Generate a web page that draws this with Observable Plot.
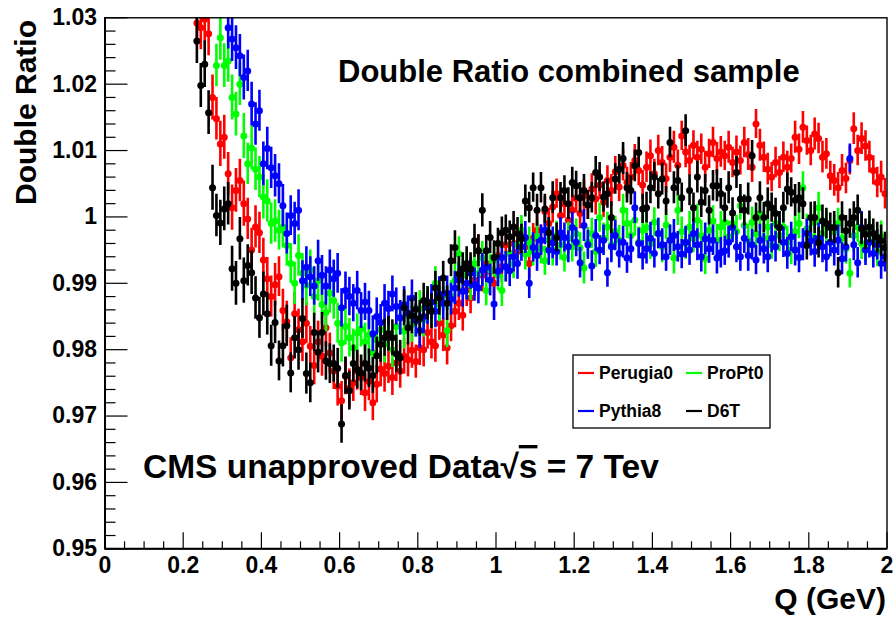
<!DOCTYPE html>
<html><head><meta charset="utf-8">
<script src="https://cdn.jsdelivr.net/npm/d3@7"></script>
<script src="https://cdn.jsdelivr.net/npm/@observablehq/plot@0.6"></script>
<style>
html,body{margin:0;padding:0;background:#fff;}
#chart{width:896px;height:621px;}
</style></head><body><div id="chart"></div>
<script>
// Q bin centres (GeV)
const q = [
0.235,0.245,0.255,0.265,0.275,0.285,0.295,0.305,0.315,0.325,
0.335,0.345,0.355,0.365,0.375,0.385,0.395,0.405,0.415,0.425,
0.435,0.445,0.455,0.465,0.475,0.485,0.495,0.505,0.515,0.525,
0.535,0.545,0.555,0.565,0.575,0.585,0.595,0.605,0.615,0.625,
0.635,0.645,0.655,0.665,0.675,0.685,0.695,0.705,0.715,0.725,
0.735,0.745,0.755,0.765,0.775,0.785,0.795,0.805,0.815,0.825,
0.835,0.845,0.855,0.865,0.875,0.885,0.895,0.905,0.915,0.925,
0.935,0.945,0.955,0.965,0.975,0.985,0.995,1.005,1.015,1.025,
1.035,1.045,1.055,1.065,1.075,1.085,1.095,1.105,1.115,1.125,
1.135,1.145,1.155,1.165,1.175,1.185,1.195,1.205,1.215,1.225,
1.235,1.245,1.255,1.265,1.275,1.285,1.295,1.305,1.315,1.325,
1.335,1.345,1.355,1.365,1.375,1.385,1.395,1.405,1.415,1.425,
1.435,1.445,1.455,1.465,1.475,1.485,1.495,1.505,1.515,1.525,
1.535,1.545,1.555,1.565,1.575,1.585,1.595,1.605,1.615,1.625,
1.635,1.645,1.655,1.665,1.675,1.685,1.695,1.705,1.715,1.725,
1.735,1.745,1.755,1.765,1.775,1.785,1.795,1.805,1.815,1.825,
1.835,1.845,1.855,1.865,1.875,1.885,1.895,1.905,1.915,1.925,
1.935,1.945,1.955,1.965,1.975,1.985,1.995];

const perugia0 = [
1.0292,1.0285,1.0298,1.0276,1.0180,1.0148,1.0110,1.0120,1.0065,1.0014,
1.0040,1.0055,1.0020,0.9997,0.9950,0.9985,0.9976,0.9935,0.9907,0.9880,
0.9898,0.9910,0.9859,0.9842,0.9788,0.9854,0.9830,0.9812,0.9840,0.9805,
0.9776,0.9812,0.9790,0.9833,0.9795,0.9768,0.9745,0.9723,0.9760,0.9742,
0.9750,0.9768,0.9758,0.9735,0.9752,0.9720,0.9748,0.9771,0.9764,0.9775,
0.9758,0.9780,0.9768,0.9790,0.9785,0.9799,0.9782,0.9803,0.9800,0.9826,
0.9812,0.9806,0.9840,0.9822,0.9803,0.9836,0.9858,0.9870,0.9852,0.9890,
0.9878,0.9905,0.9949,0.9912,0.9930,0.9918,0.9900,0.9942,0.9925,0.9958,
0.9945,0.9960,0.9948,0.9972,0.9955,0.9930,0.9968,0.9980,0.9965,1.0008,
0.9990,1.0015,1.0035,1.0002,1.0020,0.9995,1.0010,1.0028,1.0005,1.0032,
1.0018,1.0042,1.0027,1.0048,1.0022,1.0055,1.0040,1.0068,1.0045,1.0078,
1.0052,1.0060,1.0085,1.0070,1.0048,1.0075,1.0092,1.0065,1.0100,1.0082,
1.0058,1.0090,1.0105,1.0078,1.0122,1.0098,1.0085,1.0108,1.0090,1.0102,
1.0075,1.0095,1.0112,1.0088,1.0098,1.0092,1.0105,1.0082,1.0098,1.0085,
1.0112,1.0094,1.0075,1.0140,1.0108,1.0090,1.0072,1.0060,1.0082,1.0067,
1.0090,1.0075,1.0088,1.0120,1.0102,1.0135,1.0115,1.0100,1.0125,1.0118,
1.0090,1.0095,1.0062,1.0055,1.0044,1.0070,1.0058,1.0085,1.0133,1.0100,
1.0118,1.0107,1.0090,1.0070,1.0052,1.0060,1.0035];

const propt0 = [
null,null,null,null,null,1.0228,1.0270,1.0228,1.0235,1.0180,
1.0155,1.0200,1.0122,1.0080,1.0104,1.0072,1.0060,1.0030,1.0024,0.9990,
0.9994,0.9980,0.9985,0.9957,0.9930,0.9900,0.9942,0.9915,0.9897,0.9920,
0.9880,0.9904,0.9868,0.9856,0.9885,0.9874,0.9840,0.9810,0.9835,0.9818,
0.9803,0.9825,0.9831,0.9812,0.9822,0.9795,0.9815,0.9830,0.9808,0.9825,
0.9800,0.9835,0.9848,0.9828,0.9852,0.9838,0.9844,0.9862,0.9845,0.9870,
0.9860,0.9900,0.9868,0.9882,0.9829,0.9880,0.9905,0.9944,0.9912,0.9925,
0.9898,0.9930,0.9915,0.9938,0.9889,0.9920,0.9935,0.9912,0.9889,0.9925,
0.9945,0.9930,0.9958,0.9980,0.9944,0.9962,0.9948,0.9970,0.9952,0.9934,
0.9965,0.9950,0.9972,0.9958,0.9939,0.9968,0.9955,0.9975,0.9953,0.9923,
0.9962,0.9975,0.9948,0.9999,0.9968,0.9985,0.9958,0.9978,0.9965,1.0010,
0.9990,0.9972,0.9995,0.9962,0.9980,0.9984,0.9960,0.9992,0.9975,0.9955,
0.9988,0.9965,0.9938,1.0010,0.9978,0.9960,0.9985,0.9968,0.9995,0.9972,
0.9937,0.9980,0.9994,0.9965,0.9985,0.9992,0.9970,0.9990,0.9978,1.0017,
0.9987,0.9965,0.9992,0.9975,1.0005,0.9968,0.9985,0.9958,0.9990,0.9972,
0.9985,0.9962,0.9950,0.9978,0.9990,1.0044,0.9982,0.9970,0.9992,1.0014,
0.9975,0.9985,0.9962,0.9978,0.9990,0.9968,0.9952,0.9915,0.9972,0.9985,
0.9960,0.9954,0.9978,0.9965,0.9948,0.9970,0.9954];

const pythia8 = [
null,null,null,null,null,null,null,null,1.0285,1.0268,
1.0255,1.0243,1.0210,1.0220,1.0170,1.0140,1.0160,1.0080,1.0103,1.0074,
1.0062,1.0050,1.0017,0.9975,1.0002,0.9990,1.0010,0.9904,0.9924,0.9910,
0.9896,0.9934,0.9912,0.9896,0.9920,0.9907,0.9915,0.9863,0.9889,0.9880,
0.9870,0.9889,0.9859,0.9872,0.9859,0.9824,0.9850,0.9841,0.9870,0.9862,
0.9884,0.9865,0.9848,0.9868,0.9855,0.9878,0.9844,0.9829,0.9850,0.9863,
0.9872,0.9858,0.9884,0.9870,0.9885,0.9876,0.9893,0.9905,0.9888,0.9900,
0.9915,0.9898,0.9893,0.9920,0.9924,0.9905,0.9869,0.9918,0.9939,0.9925,
0.9919,0.9940,0.9930,0.9955,0.9969,0.9900,0.9954,0.9942,0.9965,0.9980,
0.9950,0.9961,0.9948,0.9976,0.9969,0.9955,0.9984,0.9962,0.9931,0.9987,
0.9958,0.9926,0.9972,0.9950,0.9965,0.9916,0.9955,0.9972,0.9945,0.9962,
0.9938,0.9952,1.0014,0.9960,0.9942,0.9952,0.9968,0.9945,0.9975,0.9958,
0.9940,0.9965,0.9972,0.9955,0.9944,0.9962,0.9950,0.9975,0.9958,0.9940,
0.9967,0.9952,0.9965,0.9938,0.9946,0.9949,0.9962,0.9984,0.9955,0.9940,
0.9968,0.9942,0.9958,0.9935,0.9965,0.9952,0.9940,0.9968,0.9955,0.9984,
0.9962,0.9945,0.9970,0.9950,0.9939,0.9958,0.9975,0.9964,0.9948,0.9968,
0.9955,0.9940,0.9962,0.9950,0.9965,0.9937,0.9955,1.0088,0.9958,0.9931,
0.9984,0.9950,0.9962,0.9945,0.9958,0.9930,0.9940];

const d6t = [
1.0265,1.0198,1.0230,1.0157,1.0044,1.0002,0.9991,1.0012,1.0020,0.9922,
0.9900,0.9967,0.9904,0.9927,0.9916,0.9878,0.9848,0.9884,0.9854,0.9806,
0.9841,0.9783,0.9806,0.9836,0.9765,0.9818,0.9800,0.9847,0.9764,0.9750,
0.9826,0.9796,0.9826,0.9783,0.9779,0.9779,0.9772,0.9688,0.9761,0.9738,
0.9779,0.9770,0.9765,0.9779,0.9772,0.9761,0.9791,0.9808,0.9818,0.9824,
0.9818,0.9794,0.9788,0.9863,0.9833,0.9851,0.9861,0.9847,0.9874,0.9870,
0.9858,0.9893,0.9878,0.9908,0.9870,0.9934,0.9954,0.9914,0.9922,0.9930,
0.9922,0.9964,0.9949,1.0010,0.9949,0.9969,0.9939,0.9960,0.9976,0.9980,
0.9970,0.9985,0.9975,0.9967,1.0024,1.0014,1.0044,1.0010,1.0044,1.0012,
0.9976,1.0029,0.9969,1.0029,1.0040,1.0020,1.0052,1.0047,1.0029,1.0040,
1.0018,1.0029,1.0067,1.0060,1.0030,1.0035,0.9999,1.0057,1.0072,1.0088,
1.0044,1.0040,1.0077,1.0097,1.0012,1.0014,1.0044,1.0060,1.0035,1.0057,
1.0024,1.0112,1.0044,1.0055,1.0029,1.0130,1.0040,1.0014,1.0060,1.0022,
1.0040,1.0010,1.0047,1.0047,1.0035,1.0014,1.0044,1.0006,1.0067,1.0027,
1.0010,1.0027,1.0092,0.9999,1.0029,0.9999,1.0020,1.0014,1.0005,0.9984,
1.0014,1.0042,1.0037,1.0025,1.0029,1.0020,0.9957,0.9999,0.9999,0.9961,
0.9994,0.9990,0.9984,0.9984,0.9916,0.9999,0.9979,0.9990,0.9999,1.0010,
0.9982,0.9974,0.9985,0.9975,0.9969,0.9964,0.9954];

// statistical error per Q bin (shared by the four samples)
const errors = [
0.0034,0.0033,0.0035,0.0033,0.0034,0.0032,0.0034,0.0033,0.0032,0.0034,
0.0033,0.0032,0.0034,0.0031,0.0033,0.0032,0.0031,0.0033,0.0032,0.0031,
0.0032,0.0030,0.0032,0.0031,0.0030,0.0032,0.0031,0.0030,0.0031,0.0030,
0.0029,0.0031,0.0030,0.0029,0.0030,0.0028,0.0030,0.0029,0.0028,0.0029,
0.0028,0.0029,0.0027,0.0028,0.0029,0.0027,0.0028,0.0027,0.0028,0.0026,
0.0027,0.0028,0.0026,0.0027,0.0026,0.0027,0.0025,0.0027,0.0026,0.0025,
0.0026,0.0025,0.0026,0.0025,0.0026,0.0024,0.0025,0.0026,0.0024,0.0025,
0.0024,0.0025,0.0024,0.0025,0.0023,0.0024,0.0025,0.0023,0.0024,0.0023,
0.0024,0.0023,0.0024,0.0022,0.0024,0.0023,0.0022,0.0024,0.0023,0.0022,
0.0023,0.0024,0.0022,0.0023,0.0022,0.0024,0.0023,0.0022,0.0023,0.0024,
0.0022,0.0023,0.0024,0.0022,0.0023,0.0022,0.0024,0.0023,0.0022,0.0024,
0.0023,0.0022,0.0024,0.0023,0.0022,0.0023,0.0024,0.0022,0.0023,0.0024,
0.0022,0.0023,0.0024,0.0023,0.0022,0.0024,0.0023,0.0022,0.0024,0.0023,
0.0024,0.0022,0.0023,0.0024,0.0023,0.0022,0.0024,0.0023,0.0024,0.0022,
0.0023,0.0024,0.0023,0.0022,0.0024,0.0023,0.0024,0.0022,0.0023,0.0024,
0.0023,0.0024,0.0022,0.0024,0.0023,0.0024,0.0022,0.0023,0.0024,0.0023,
0.0024,0.0023,0.0022,0.0024,0.0023,0.0024,0.0023,0.0022,0.0024,0.0023,
0.0024,0.0023,0.0024,0.0022,0.0023,0.0024,0.0023];

const seriesNames = ["Perugia0", "ProPt0", "Pythia8", "D6T"];
const seriesColors = ["#ff0000", "#00ff00", "#0000ff", "#000000"];
const seriesValues = [perugia0, propt0, pythia8, d6t];

const xMajorTicks = [0,0.2,0.4,0.6,0.8,1,1.2,1.4,1.6,1.8,2];
const xTickLabels = ["0","0.2","0.4","0.6","0.8","1","1.2","1.4","1.6","1.8","2"];
const xMinorTicks = [0.05,0.1,0.15,0.25,0.3,0.35,0.45,0.5,0.55,0.65,0.7,0.75,0.85,0.9,0.95,
  1.05,1.1,1.15,1.25,1.3,1.35,1.45,1.5,1.55,1.65,1.7,1.75,1.85,1.9,1.95];
const yMajorTicks = [0.95,0.96,0.97,0.98,0.99,1,1.01,1.02,1.03];
const yTickLabels = ["0.95","0.96","0.97","0.98","0.99","1","1.01","1.02","1.03"];
const yMinorTicks = [0.952,0.954,0.956,0.958,0.962,0.964,0.966,0.968,0.972,0.974,0.976,0.978,
  0.982,0.984,0.986,0.988,0.992,0.994,0.996,0.998,1.002,1.004,1.006,1.008,1.012,1.014,1.016,1.018,
  1.022,1.024,1.026,1.028];

const titleText = "Double Ratio combined sample";
const yTitle = "Double Ratio";
const xTitle = "Q (GeV)";

const FONT = "'Liberation Sans', Arial, Helvetica, sans-serif";

const marks = [];
seriesValues.forEach((vals, k) => {
  const rows = vals.map((v, i) => ({q: q[i], v, err: errors[i]})).filter(d => d.v != null);
  marks.push(Plot.ruleX(rows, {x: "q", y1: d => d.v - d.err, y2: d => d.v + d.err,
    stroke: seriesColors[k], strokeWidth: 2.6, clip: true}));
  marks.push(Plot.dot(rows.filter(d => d.v <= 1.03), {x: "q", y: "v", r: 3.5,
    fill: seriesColors[k], stroke: "none", clip: true}));
});
marks.push(
  Plot.frame({stroke: "#000", strokeWidth: 1.4}),
  Plot.ruleX([0], {stroke: "#000", strokeWidth: 2}),
  Plot.ruleY([0.95], {stroke: "#000", strokeWidth: 2}),
  Plot.axisY(yMajorTicks, {tickSize: -23, fill: "none", label: null, strokeWidth: 1.2}),
  Plot.axisY(yMinorTicks, {tickSize: -11, fill: "none", label: null, strokeWidth: 1.2}),
  Plot.axisX(xMajorTicks, {tickSize: -16, fill: "none", label: null, strokeWidth: 1.2}),
  Plot.axisX(xMinorTicks, {tickSize: -7, fill: "none", label: null, strokeWidth: 1.2}),
  Plot.axisY(yMajorTicks, {tickSize: 0, tickPadding: 8, label: null, fontSize: 23, fontWeight: "bold",
    fill: "#000", tickFormat: d => yTickLabels[yMajorTicks.indexOf(d)]}),
  Plot.axisX(xMajorTicks, {tickSize: 0, tickPadding: 8, label: null, fontSize: 23, fontWeight: "bold",
    fill: "#000", tickFormat: d => xTickLabels[xMajorTicks.indexOf(d)]})
);

const plot = Plot.plot({
  width: 896, height: 621,
  marginLeft: 104.5, marginRight: 9.5, marginTop: 17.3, marginBottom: 72.7,
  x: {domain: [0, 2], label: null},
  y: {domain: [0.95, 1.03], label: null},
  style: {fontFamily: FONT, background: "#fff", color: "#000"},
  marks
});
document.getElementById("chart").appendChild(plot);

const svg = d3.select(plot);
const addText = (x, y, size, txt, anchor = "start", transform = null) => {
  const t = svg.append("text")
    .attr("font-family", FONT).attr("font-weight", "bold").attr("font-size", size)
    .attr("fill", "#000").attr("text-anchor", anchor);
  if (transform) t.attr("transform", transform); else t.attr("x", x).attr("y", y);
  t.text(txt);
  return t;
};
addText(338, 82, 31, titleText);
addText(0, 0, 30, yTitle, "end", "translate(36,20) rotate(-90)");
addText(886, 609, 30, xTitle, "end");

// CMS label with sqrt(s)
const cms = svg.append("text").attr("x", 143).attr("y", 478).attr("text-anchor", "start")
  .attr("font-family", FONT).attr("font-weight", "bold").attr("font-size", 33.5).attr("fill", "#000");
cms.append("tspan").text("CMS unapproved Data");
cms.append("tspan").text("\u221A");
cms.append("tspan").attr("style", "text-decoration: overline").text("s");
cms.append("tspan").text(" = 7 Tev");

// legend
const lg = svg.append("g");
lg.append("rect").attr("x", 573).attr("y", 355).attr("width", 197).attr("height", 73)
  .attr("fill", "#fff").attr("stroke", "#000").attr("stroke-width", 1.3);
const legendCols = [578, 686];
const legendRows = [373, 411];
seriesNames.forEach((name, k) => {
  const cx = legendCols[k % 2], cy = legendRows[Math.floor(k / 2)];
  lg.append("line").attr("x1", cx).attr("x2", cx + 16).attr("y1", cy).attr("y2", cy)
    .attr("stroke", seriesColors[k]).attr("stroke-width", 2.2);
  lg.append("text").attr("x", cx + 21).attr("y", cy + 6).attr("text-anchor", "start")
    .attr("font-family", FONT).attr("font-weight", "bold").attr("font-size", 17.5).attr("fill", "#000")
    .text(name);
});
</script>
</body></html>
